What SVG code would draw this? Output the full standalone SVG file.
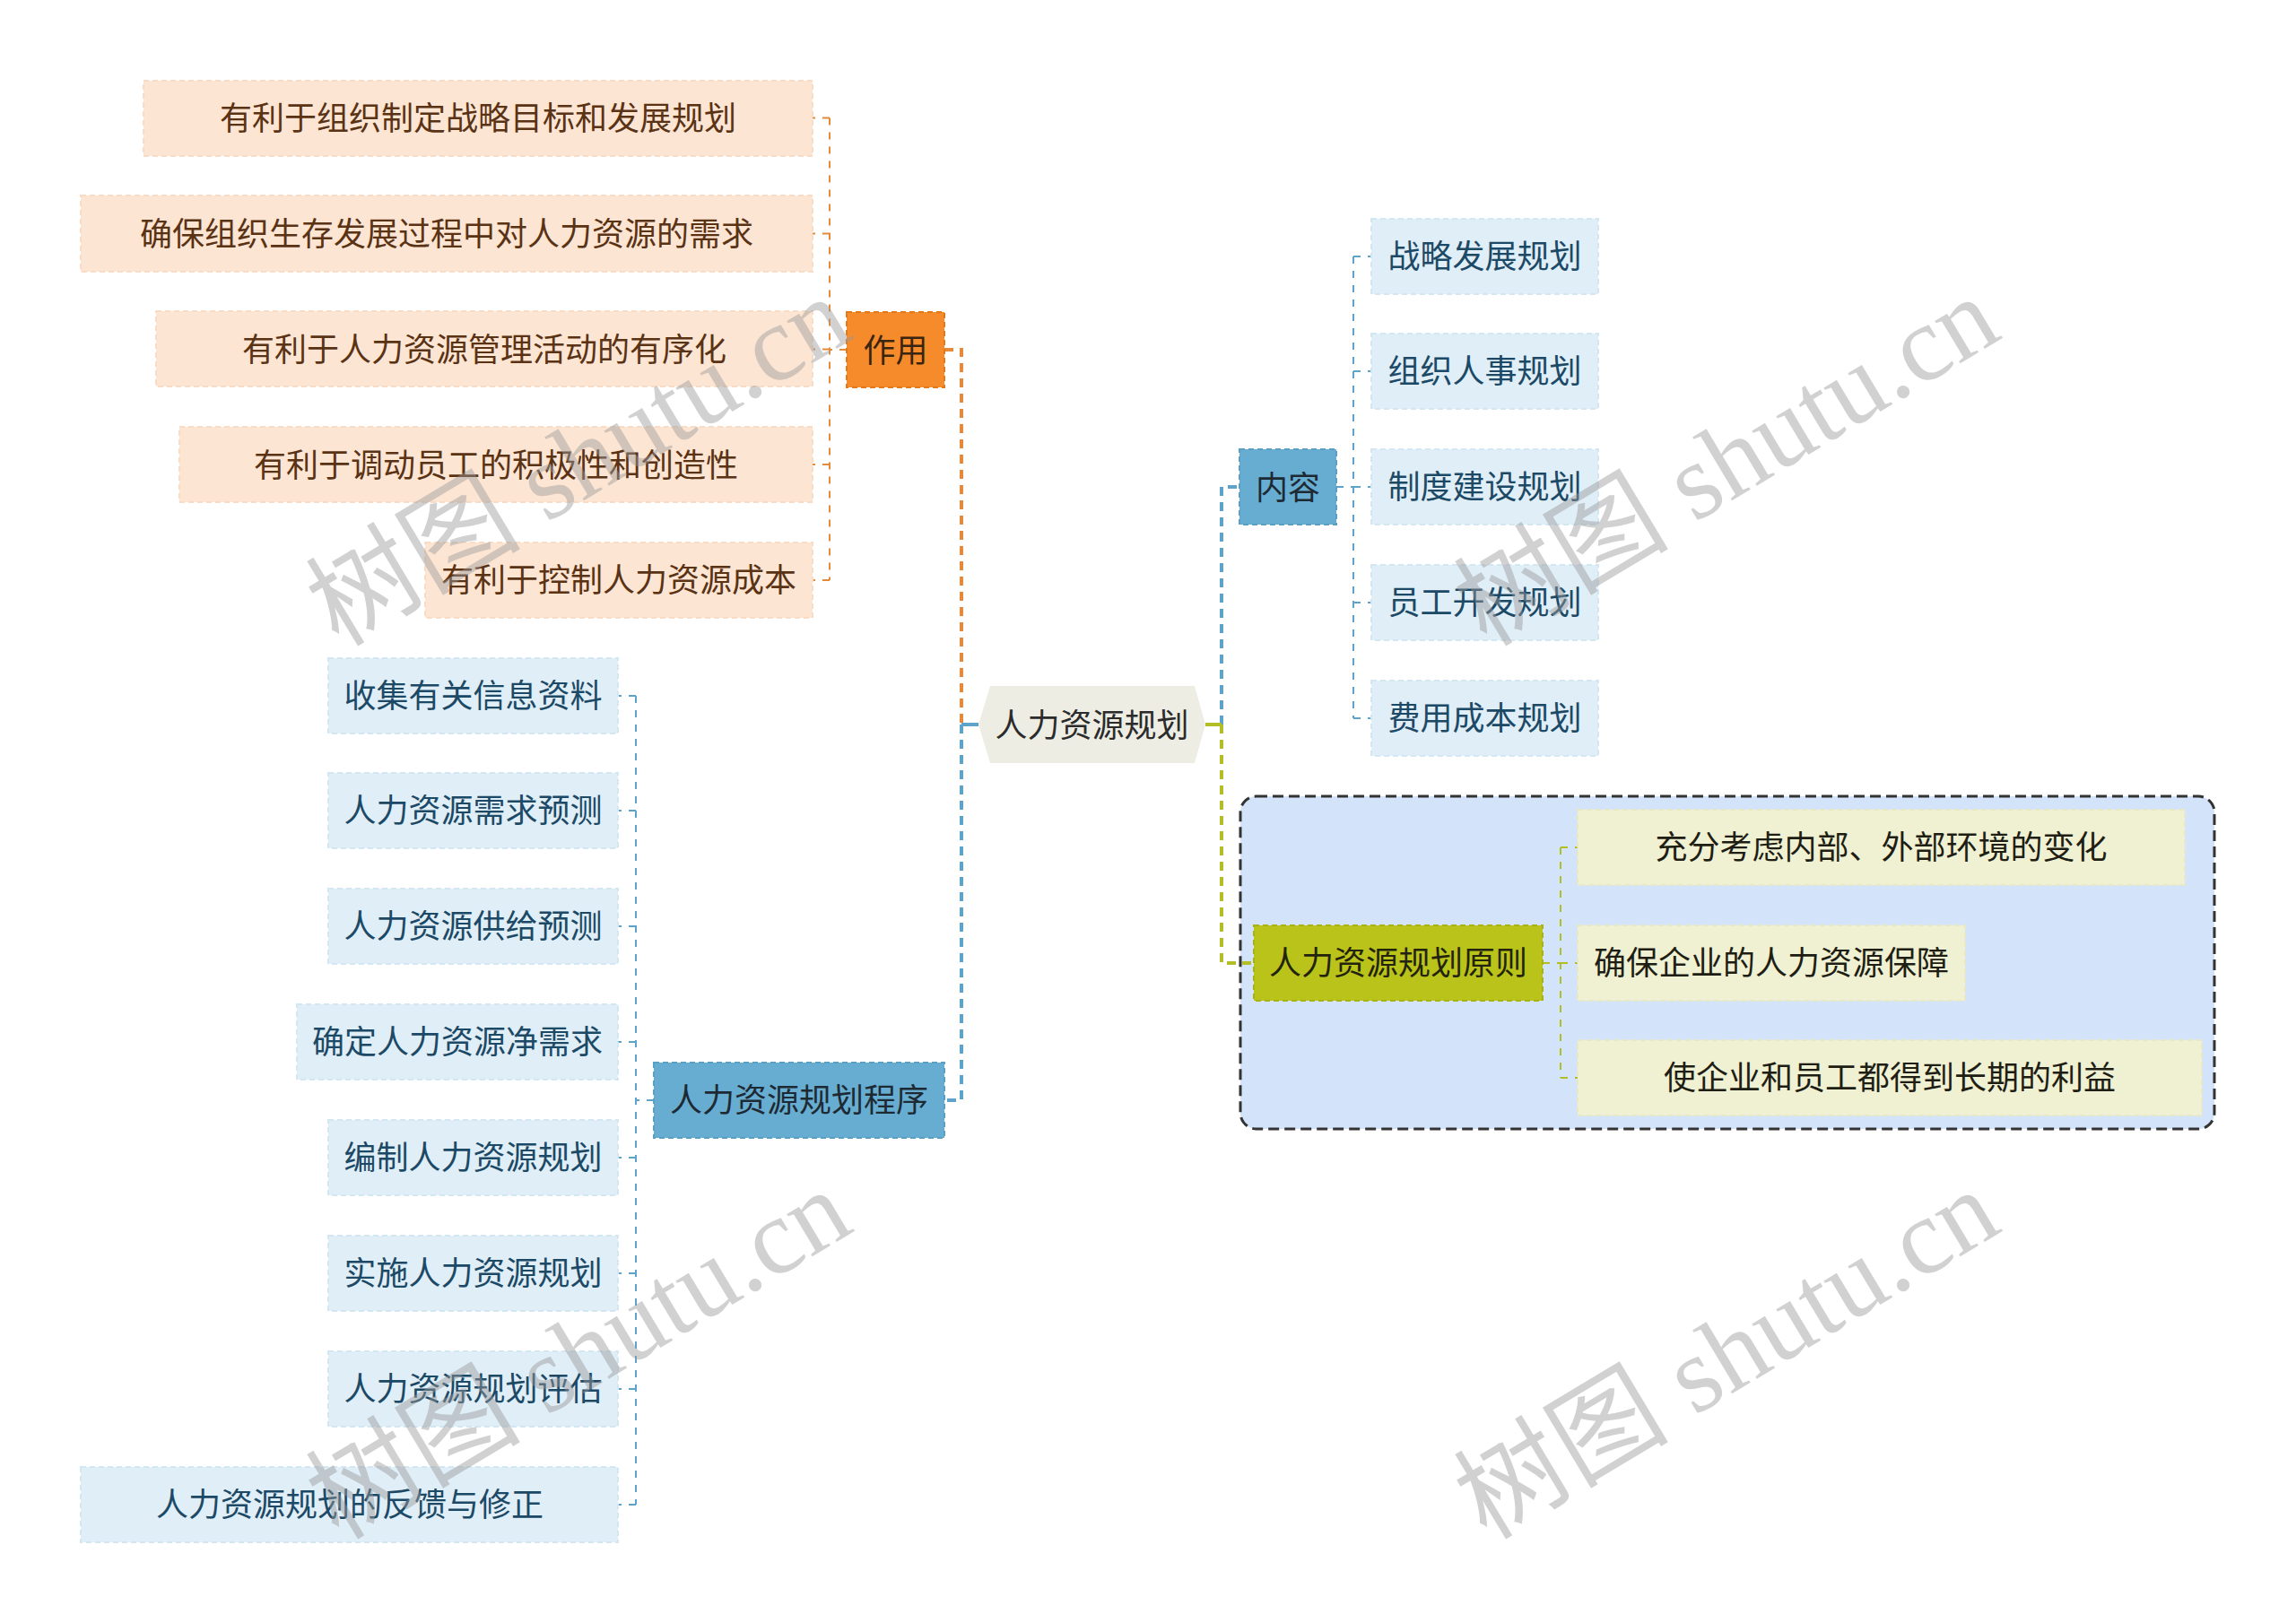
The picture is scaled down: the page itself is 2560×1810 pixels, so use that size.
<svg xmlns="http://www.w3.org/2000/svg" width="2560" height="1810" viewBox="0 0 2560 1810">
<style>
text{font-family:"Noto Sans CJK SC","Noto Sans",sans-serif;font-size:36px;text-anchor:middle}
.pl{fill:#FDE5D3;stroke:#F9DCC6;stroke-width:2;stroke-dasharray:6 4}
.pt{fill:#5A3214}
.bl{fill:#DFEEF7;stroke:#D3E7F3;stroke-width:2;stroke-dasharray:6 4}
.bt{fill:#1C4966}
.yl{fill:#F0F0D2;stroke:#E8E8C4;stroke-width:2;stroke-dasharray:6 4}
.yt{fill:#1E1E14}
.br{fill:#67ADD1;stroke:#5A9FC4;stroke-width:2;stroke-dasharray:6 4}
.dt{fill:#1E2A33}
.c1{fill:none;stroke-width:4;stroke-dasharray:10 7}
.c2{fill:none;stroke-width:2;stroke-dasharray:8 8}
.or{stroke:#E58A38}
.bu{stroke:#5DA3CA}
.ol{stroke:#B3BD24}
.wm{font-family:"Liberation Serif","Noto Sans CJK SC",serif;font-size:120px;fill:#9a9a9a;opacity:0.45;text-anchor:middle}
</style>

<rect x="1383" y="888" width="1086" height="371" rx="18" fill="#D3E3F9" stroke="#333" stroke-width="3" stroke-dasharray="12 6"/>

<g id="connectors">
  <path class="c1 or" d="M1053,390 H1072 V808"/>
  <path d="M1091,808 H1072" stroke="#5DA3CA" stroke-width="4" fill="none"/>
  <path class="c1 bu" d="M1072,808 V1227 H1053"/>
  <path class="c1 bu" d="M1362,808 V543 H1382"/>
  <path d="M1344,808 H1362" stroke="#B3BD24" stroke-width="4" fill="none"/>
  <path class="c1 ol" d="M1362,808 V1074 H1398"/>

  <path class="c2 or" d="M944,390 H925 M925,131.5 V647 M925,131.5 H906 M925,260.5 H906 M925,389.5 H906 M925,518 H906 M925,647 H906"/>
  <path class="c2 bu" d="M1490,543 H1509 M1509,286 V801 M1509,286 H1529 M1509,414 H1529 M1509,543 H1529 M1509,672 H1529 M1509,801 H1529"/>
  <path class="c2 bu" d="M729,1227 H709 M709,776 V1678 M709,776 H689 M709,904 H689 M709,1033 H689 M709,1162 H689 M709,1291 H689 M709,1420 H689 M709,1549 H689 M709,1678 H689"/>
  <path class="c2 ol" d="M1720,1074 H1740 M1740,945 V1202 M1740,945 H1759 M1740,1074 H1759 M1740,1202 H1759"/>
</g>

<g id="root">
  <polygon points="1091,808 1104,765 1332,765 1344,808 1332,851 1104,851" fill="#EDEDE4"/>
  <text x="1217.5" y="822" fill="#2B2B2B">人力资源规划</text>
</g>

<g id="zuoyong">
  <rect x="944" y="348" width="109" height="84" fill="#F68B2B" stroke="#E2791C" stroke-width="2" stroke-dasharray="6 4"/>
  <text x="998.5" y="404" fill="#3A2510">作用</text>
</g>
<g id="zy1"><rect class="pl" x="160" y="90" width="746" height="84"/><text class="pt" x="533" y="145">有利于组织制定战略目标和发展规划</text></g>
<g id="zy2"><rect class="pl" x="90" y="218" width="816" height="85"/><text class="pt" x="498" y="274">确保组织生存发展过程中对人力资源的需求</text></g>
<g id="zy3"><rect class="pl" x="174" y="347" width="732" height="84"/><text class="pt" x="540" y="403">有利于人力资源管理活动的有序化</text></g>
<g id="zy4"><rect class="pl" x="200" y="476" width="706" height="84"/><text class="pt" x="553" y="532">有利于调动员工的积极性和创造性</text></g>
<g id="zy5"><rect class="pl" x="474" y="605" width="432" height="84"/><text class="pt" x="690" y="660">有利于控制人力资源成本</text></g>

<g id="neirong">
  <rect class="br" x="1382" y="501" width="108" height="84"/>
  <text class="dt" x="1436" y="557">内容</text>
</g>
<g id="nr1"><rect class="bl" x="1529" y="244" width="253" height="84"/><text class="bt" x="1655.5" y="299">战略发展规划</text></g>
<g id="nr2"><rect class="bl" x="1529" y="372" width="253" height="84"/><text class="bt" x="1655.5" y="427">组织人事规划</text></g>
<g id="nr3"><rect class="bl" x="1529" y="501" width="253" height="84"/><text class="bt" x="1655.5" y="556">制度建设规划</text></g>
<g id="nr4"><rect class="bl" x="1529" y="630" width="253" height="84"/><text class="bt" x="1655.5" y="685">员工开发规划</text></g>
<g id="nr5"><rect class="bl" x="1529" y="759" width="253" height="84"/><text class="bt" x="1655.5" y="814">费用成本规划</text></g>

<g id="yuanze">
  <rect x="1398" y="1032" width="322" height="84" fill="#BAC31A" stroke="#A9B214" stroke-width="2" stroke-dasharray="6 4"/>
  <text x="1559" y="1087" fill="#23230E">人力资源规划原则</text>
</g>
<g id="yz1"><rect class="yl" x="1759" y="903" width="677" height="84"/><text class="yt" x="2097.5" y="958">充分考虑内部、外部环境的变化</text></g>
<g id="yz2"><rect class="yl" x="1759" y="1032" width="432" height="84"/><text class="yt" x="1975" y="1087">确保企业的人力资源保障</text></g>
<g id="yz3"><rect class="yl" x="1759" y="1160" width="696" height="84"/><text class="yt" x="2107" y="1215">使企业和员工都得到长期的利益</text></g>

<g id="chengxu">
  <rect class="br" x="729" y="1185" width="324" height="84"/>
  <text class="dt" x="891" y="1240">人力资源规划程序</text>
</g>
<g id="cx1"><rect class="bl" x="366" y="734" width="323" height="84"/><text class="bt" x="527.5" y="789">收集有关信息资料</text></g>
<g id="cx2"><rect class="bl" x="366" y="862" width="323" height="84"/><text class="bt" x="527.5" y="917">人力资源需求预测</text></g>
<g id="cx3"><rect class="bl" x="366" y="991" width="323" height="84"/><text class="bt" x="527.5" y="1046">人力资源供给预测</text></g>
<g id="cx4"><rect class="bl" x="331" y="1120" width="358" height="84"/><text class="bt" x="510" y="1175">确定人力资源净需求</text></g>
<g id="cx5"><rect class="bl" x="366" y="1249" width="323" height="84"/><text class="bt" x="527.5" y="1304">编制人力资源规划</text></g>
<g id="cx6"><rect class="bl" x="366" y="1378" width="323" height="84"/><text class="bt" x="527.5" y="1433">实施人力资源规划</text></g>
<g id="cx7"><rect class="bl" x="366" y="1507" width="323" height="84"/><text class="bt" x="527.5" y="1562">人力资源规划评估</text></g>
<g id="cx8"><rect class="bl" x="90" y="1636" width="599" height="84"/><text class="bt" x="390" y="1691">人力资源规划的反馈与修正</text></g>

<g id="watermarks">
  <text class="wm" x="645" y="555" transform="rotate(-31 645 514)">树图 shutu.cn</text>
  <text class="wm" x="1925" y="555" transform="rotate(-31 1925 514)">树图 shutu.cn</text>
  <text class="wm" x="645" y="1551" transform="rotate(-31 645 1510)">树图 shutu.cn</text>
  <text class="wm" x="1925" y="1551" transform="rotate(-31 1925 1510)">树图 shutu.cn</text>
</g>
</svg>
